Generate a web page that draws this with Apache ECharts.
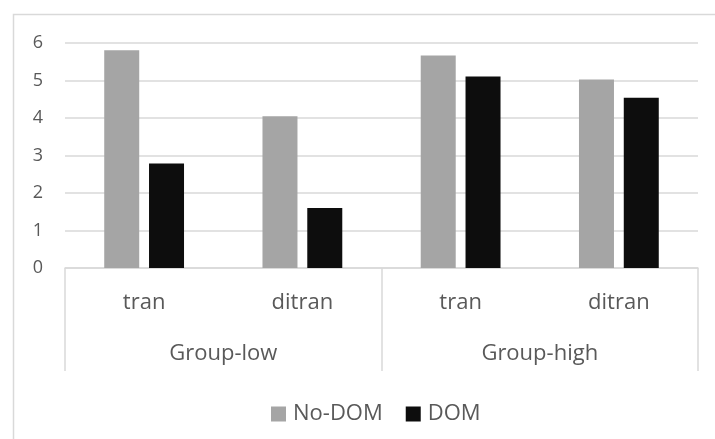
<!DOCTYPE html>
<html>
<head>
<meta charset="utf-8">
<script src="https://cdn.jsdelivr.net/npm/echarts@6/dist/echarts.min.js"></script>
<style>
html,body{margin:0;padding:0;background:#fff;}
#chart{width:715px;height:439px;}
</style>
</head>
<body>
<div id="chart"></div>
<script>
const subCategories = ['tran', 'ditran', 'tran', 'ditran'];
const groups = ['Group-low', 'Group-high'];
const noDom = [5.81, 4.05, 5.67, 5.03];
const dom = [2.79, 1.6, 5.11, 4.54];
const seriesNames = ['No-DOM', 'DOM'];

const FONT = 'Open Sans';
const TXT = '#595959';
const LINE = '#d9d9d9';

const chart = echarts.init(document.getElementById('chart'), null, {renderer: 'canvas'});
chart.setOption({
  animation: false,
  backgroundColor: '#fff',
  textStyle: {fontFamily: FONT},
  graphic: [{
    type: 'rect',
    shape: {x: 13.5, y: 14.5, width: 900, height: 700},
    style: {fill: 'none', stroke: LINE, lineWidth: 1.5},
    silent: true, z: -10
  }],
  grid: {left: 65, right: 17, top: 43, bottom: 171, containLabel: false},
  legend: {
    data: seriesNames,
    left: 266, top: 398,
    icon: 'rect', itemWidth: 15, itemHeight: 15, itemGap: 23,
    textStyle: {color: TXT, fontSize: 22, fontFamily: FONT, lineHeight: 22, padding: [0, 0, 0, 2]}
  },
  xAxis: [{
    type: 'category',
    data: subCategories,
    position: 'bottom',
    axisLine: {show: true, lineStyle: {color: LINE, width: 1.5}},
    axisTick: {show: false},
    axisLabel: {color: TXT, fontSize: 22, fontFamily: FONT, lineHeight: 22, margin: 24, interval: 0}
  }, {
    type: 'category',
    data: groups,
    position: 'bottom',
    axisLine: {show: false},
    axisTick: {show: true, length: 103, lineStyle: {color: LINE, width: 1.5}},
    axisLabel: {color: TXT, fontSize: 22, fontFamily: FONT, lineHeight: 22, margin: 75, interval: 0},
    splitLine: {show: false}
  }],
  yAxis: {
    type: 'value',
    min: 0, max: 6, interval: 1,
    axisLine: {show: false},
    axisTick: {show: false},
    axisLabel: {color: TXT, fontSize: 18, fontFamily: FONT, margin: 22},
    splitLine: {lineStyle: {color: LINE, width: 1.5}}
  },
  series: [{
    name: seriesNames[0], type: 'bar', data: noDom,
    barWidth: 35, barGap: '28%',
    itemStyle: {color: '#a5a5a5'}
  }, {
    name: seriesNames[1], type: 'bar', data: dom,
    barWidth: 35, barGap: '28%',
    itemStyle: {color: '#0d0d0d'}
  }]
});
</script>
</body>
</html>
